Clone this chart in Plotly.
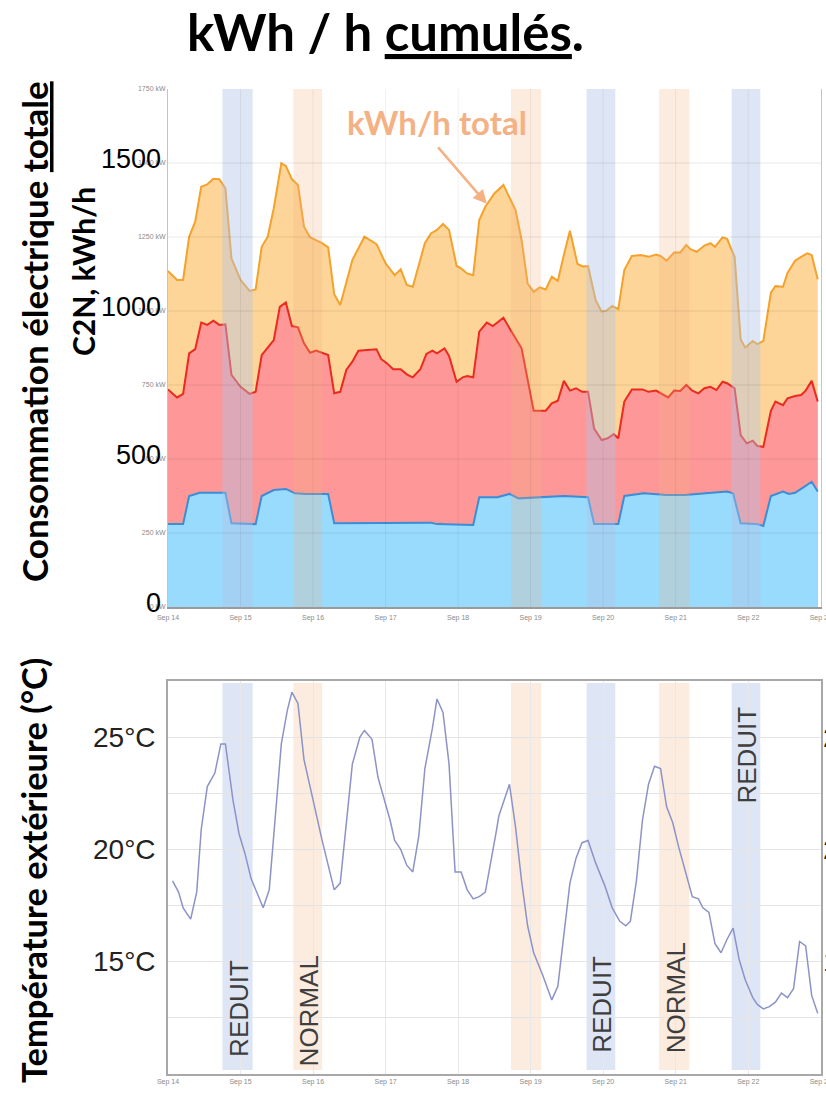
import pandas as pd
import plotly.graph_objects as go

# ---- Données : heures écoulées depuis le 14 sept. 00:00 ----
DEBUT = pd.Timestamp("2014-09-14 00:00")
JOURS = 9

# Courbe cumulée totale (kWh/h)
total_h = [0, 3, 5, 7, 9, 11, 13, 15, 17, 19, 21, 24,
           27, 29, 31, 33, 35, 37.5, 39, 41, 43, 45, 47,
           51, 53, 55, 57, 59, 61, 65, 69, 72,
           75, 77, 79, 81, 85, 87, 89, 91, 93, 95.5,
           97, 99, 101, 103, 105, 108, 111, 115, 117, 119,
           121, 123, 125, 127, 129, 131, 133, 135.5, 137.5, 139, 141.5, 143.5,
           145, 147, 149, 151, 153.5, 156.5, 159, 161.5, 163, 165, 167.5,
           169.5, 171.5, 173, 175, 177.5, 179.5, 181, 183.5, 185, 187.5, 189.5, 191,
           193.5, 195, 197, 199.5, 201, 203.5, 205, 207.5, 209.5, 211.5, 213, 215]
total_kwh = [1135, 1105, 1105, 1251, 1302, 1420, 1428, 1447, 1445, 1414, 1178, 1105,
             1068, 1073, 1217, 1251, 1347, 1499, 1490, 1445, 1426, 1285, 1249,
             1229, 1215, 1057, 1020, 1093, 1172, 1251, 1226, 1161,
             1121, 1141, 1088, 1082, 1229, 1262, 1274, 1294, 1274, 1152,
             1144, 1127, 1121, 1307, 1352, 1397, 1426, 1341, 1240, 1093,
             1065, 1080, 1073, 1116, 1102, 1189, 1271, 1159, 1150, 1152, 1037, 998,
             1001, 1017, 1006, 1138, 1186, 1189, 1183, 1191, 1186, 1170, 1198,
             1198, 1223, 1208, 1200, 1221, 1229, 1217, 1249, 1244, 1183, 904, 877,
             899, 888, 899, 1062, 1084, 1082, 1129, 1170, 1183, 1195, 1189, 1107]

# Cumul des deux premiers groupes (kWh/h)
cumul2_h = [0, 3, 5, 7, 9, 11, 13, 15, 17, 19, 21, 24,
            27, 29, 31, 35, 37, 39, 41, 43, 45, 47,
            49, 53, 55, 57, 59, 61, 63, 69, 70.5,
            72.5, 74.5, 77, 79, 81, 83.5, 85.5, 87.5, 89, 91.5, 93, 95.5,
            97.5, 99, 101, 103, 105.5, 107.5, 111, 113.5, 117,
            121, 125, 127, 129, 131, 133, 135, 137, 139, 141, 143.5,
            145.5, 147.5, 149, 151, 153.5, 157, 159, 161.5, 165.5, 167.5,
            169.5, 171.5, 173.5, 175.5, 177.5, 179.5, 181.5, 183.5, 185, 187.5, 189.5, 191.5,
            193.5, 195, 197, 199.5, 201, 203.5, 205, 207.5, 209.5, 211, 213, 215]
cumul2_kwh = [735, 708, 720, 857, 871, 961, 953, 967, 953, 955, 784, 744,
              720, 727, 851, 902, 1014, 1029, 949, 945, 891, 859,
              866, 851, 722, 727, 801, 829, 866, 871, 838,
              823, 803, 803, 786, 776, 803, 855, 866, 857, 874, 848, 761,
              776, 780, 776, 930, 961, 949, 977, 933, 874,
              663, 663, 688, 697, 764, 731, 739, 727, 727, 603, 564,
              570, 584, 570, 694, 735, 735, 727, 731, 708, 731,
              730, 750, 731, 722, 739, 744, 733, 761, 756, 739, 581, 553,
              562, 544, 541, 663, 694, 682, 705, 713, 716, 731, 764, 694]

# Premier groupe seul (kWh/h)
cumul1_h = [0, 5, 7, 10.5, 19, 21, 29, 31, 35, 39, 42, 45.5, 53, 55, 87,
            89, 101, 103, 109, 113, 116, 131, 139, 141, 149, 151, 157.5, 165,
            171, 176.5, 181, 185, 187, 189.5, 195, 197, 199.5, 203.5, 205.5,
            207.5, 210.5, 213, 215]
cumul1_kwh = [280, 280, 375, 386, 386, 283, 280, 375, 395, 399, 384, 382, 382, 283, 285,
              280, 277, 371, 371, 382, 367, 375, 371, 280, 280, 375, 384, 378,
              378, 382, 387, 390, 384, 283, 280, 274, 375, 390, 382,
              386, 406, 423, 390]

# Température extérieure (°C)
temp_h = [1.5, 3.5, 5, 7.5, 9.5, 11, 13, 15.5, 17.5, 19, 21.5, 23.5,
          25.5, 27.5, 31.5, 33.5, 37.5, 39.5, 41, 43, 45, 47.5,
          49.5, 51, 55, 57, 61, 63.5, 65, 67.5, 69.5, 71.5,
          73.5, 75, 77, 79, 81, 83, 85, 87.5, 89, 91, 93, 95,
          97, 99, 101, 103, 105, 108.5, 109.5, 111, 113, 115, 117, 119,
          121, 124, 127, 129, 131, 133, 135, 137, 139, 141.5,
          144.5, 147, 149.5, 151.5, 153, 155, 157, 159, 161, 163, 165, 167,
          169, 171, 173.5, 175.5, 177, 179, 181, 183, 185, 187, 189, 191,
          193.5, 195, 197, 199, 201, 203, 205, 207, 209, 211, 213, 215]
temp_c = [18.6, 18.1, 17.4, 16.9, 18.1, 20.9, 22.8, 23.4, 24.7, 24.7, 22.2, 20.7,
          19.8, 18.7, 17.4, 18.2, 24.7, 26.2, 27.0, 26.5, 24.0, 22.5,
          21.2, 20.4, 18.2, 18.5, 23.8, 25.0, 25.3, 24.9, 23.2, 22.2,
          21.3, 20.4, 20.0, 19.3, 19.0, 20.6, 23.6, 25.4, 26.7, 26.1, 23.8, 19.0,
          19.0, 18.2, 17.8, 17.9, 18.1, 20.7, 21.5, 22.1, 22.9, 21.0, 18.6, 16.6,
          15.4, 14.4, 13.3, 13.9, 16.1, 18.5, 19.6, 20.3, 20.4, 19.4,
          18.4, 17.4, 16.8, 16.6, 16.8, 18.6, 21.3, 22.9, 23.7, 23.6, 21.9, 21.2,
          20.1, 19.1, 17.9, 17.8, 17.4, 17.2, 15.8, 15.4, 16.0, 16.5, 15.1, 14.2,
          13.4, 13.1, 12.9, 13.0, 13.2, 13.6, 13.4, 13.8, 15.9, 15.7, 13.5, 12.7]

# Périodes de régime de chauffage
periode_debut_h = [18, 41.5, 113.5, 138.5, 162.5, 186.5]
periode_fin_h = [28, 51, 123.5, 148, 172.5, 196]
periode_mode = ["REDUIT", "NORMAL", "NORMAL", "REDUIT", "NORMAL", "REDUIT"]
periode_etiquette = [True, True, False, True, True, True]
etiquette_temp = [12.9, 12.8, None, 13.1, 13.4, 24.2]

reperes_kwh = [0, 500, 1000, 1500]
reperes_temp = [15, 20, 25]

# ---- Mise en page ----
W, H = 826, 1096


def t(hours):
    return [DEBUT + pd.Timedelta(hours=h) for h in hours]


def px(x):
    return x / W


def py(y):
    return 1 - y / H


X_DOM = [px(168), px(821)]
TOP_DOM = [py(607), py(89)]
BOT_DOM = [py(1074), py(681)]
X_RANGE = [DEBUT, DEBUT + pd.Timedelta(days=JOURS, minutes=5)]

NARROW = "Liberation Sans Narrow, Arial Narrow, Liberation Sans, sans-serif"
BOLD = "Lato, Open Sans, sans-serif"

MODE_COULEUR = {"REDUIT": "rgba(176,196,232,0.42)", "NORMAL": "rgba(244,177,131,0.26)"}

fig = go.Figure()

fig.add_trace(go.Scatter(
    x=t(total_h), y=total_kwh, mode="lines", fill="tozeroy",
    line=dict(color="#F4A22C", width=2), fillcolor="#FDD598",
    xaxis="x", yaxis="y", showlegend=False, hoverinfo="skip"))
fig.add_trace(go.Scatter(
    x=t(cumul2_h), y=cumul2_kwh, mode="lines", fill="tozeroy",
    line=dict(color="#EC2A1E", width=2), fillcolor="#FE9797",
    xaxis="x", yaxis="y", showlegend=False, hoverinfo="skip"))
fig.add_trace(go.Scatter(
    x=t(cumul1_h), y=cumul1_kwh, mode="lines", fill="tozeroy",
    line=dict(color="#3A8DD6", width=2), fillcolor="#99DBFD",
    xaxis="x", yaxis="y", showlegend=False, hoverinfo="skip"))

fig.add_trace(go.Scatter(
    x=t(temp_h), y=temp_c, mode="lines",
    line=dict(color="#8C93C6", width=1.5),
    xaxis="x2", yaxis="y2", showlegend=False, hoverinfo="skip"))

shapes = []
# bandes de régime sur les deux graphiques
for d, f, m in zip(periode_debut_h, periode_fin_h, periode_mode):
    x0, x1 = t([d, f])
    shapes.append(dict(type="rect", xref="x", yref="y domain", x0=x0, x1=x1,
                       y0=0, y1=1, fillcolor=MODE_COULEUR[m], line_width=0,
                       layer="above"))
    shapes.append(dict(type="rect", xref="x2", yref="y2 domain", x0=x0, x1=x1,
                       y0=0.01, y1=0.995, fillcolor=MODE_COULEUR[m], line_width=0,
                       layer="below"))

# quadrillage du graphique de consommation, visible à travers les aires
for v in range(250, 1750, 250):
    shapes.append(dict(type="line", xref="x domain", yref="y", x0=0, x1=1,
                       y0=v, y1=v, line=dict(color="rgba(0,0,0,0.09)", width=1),
                       layer="above"))
for j in range(1, JOURS):
    xj = DEBUT + pd.Timedelta(days=j)
    shapes.append(dict(type="line", xref="x", yref="y domain", x0=xj, x1=xj,
                       y0=0, y1=1, line=dict(color="rgba(0,0,0,0.06)", width=1),
                       layer="above"))

annotations = []
# titre
annotations.append(dict(
    text="<b>kWh / h <u>cumulés</u>.</b>", xref="paper", yref="paper",
    x=px(385), y=py(31), showarrow=False, xanchor="center", yanchor="middle",
    font=dict(family=BOLD, size=51, color="#000000")))
# titres des axes
annotations.append(dict(
    text="<b>Consommation électrique <u>totale</u></b>", xref="paper", yref="paper",
    x=px(34), y=py(332), textangle=-90, showarrow=False,
    xanchor="center", yanchor="middle",
    font=dict(family=BOLD, size=35, color="#000000")))
annotations.append(dict(
    text="<b>C2N, kWh/h</b>", xref="paper", yref="paper",
    x=px(83), y=py(272), textangle=-90, showarrow=False,
    xanchor="center", yanchor="middle",
    font=dict(family=BOLD, size=30, color="#000000")))
annotations.append(dict(
    text="<b>Température extérieure (°C)</b>", xref="paper", yref="paper",
    x=px(33), y=py(871), textangle=-90, showarrow=False,
    xanchor="center", yanchor="middle",
    font=dict(family=BOLD, size=34.5, color="#000000")))
# grands repères
for v in reperes_kwh:
    annotations.append(dict(
        text=str(v), xref="paper", yref="y", x=px(163), y=v, yshift=4,
        showarrow=False, xanchor="right", yanchor="middle",
        font=dict(family=NARROW, size=27, color="#000000")))
for v in reperes_temp:
    annotations.append(dict(
        text=f"{v}°C", xref="paper", yref="y2", x=px(158), y=v,
        showarrow=False, xanchor="right", yanchor="middle",
        font=dict(family=NARROW, size=28, color="#222222")))
    annotations.append(dict(
        text=f"{v}°C", xref="paper", yref="y2", x=px(821), y=v,
        showarrow=False, xanchor="left", yanchor="middle",
        font=dict(family=NARROW, size=28, color="#222222")))
# étiquettes des régimes
for d, f, m, e, ty in zip(periode_debut_h, periode_fin_h, periode_mode,
                          periode_etiquette, etiquette_temp):
    if not e:
        continue
    annotations.append(dict(
        text=m, xref="x2", yref="y2", x=t([(d + f) / 2 + 0.5])[0], y=ty,
        textangle=-90, showarrow=False, xanchor="center", yanchor="middle",
        font=dict(family=NARROW, size=26, color="#3E3E3E")))
# repère de la courbe totale
annotations.append(dict(
    text="<b>kWh/h total</b>", xref="paper", yref="paper",
    x=px(437), y=py(122), showarrow=False, xanchor="center", yanchor="middle",
    font=dict(family=BOLD, size=33, color="#F4B183")))
annotations.append(dict(
    text="", xref="x", yref="y", x=t([105.5])[0], y=1362,
    axref="pixel", ayref="pixel", ax=-50, ay=-58, showarrow=True,
    arrowhead=2, arrowsize=1.1, arrowwidth=2.5, arrowcolor="#F4B183",
    standoff=0))

tick_font = dict(family=NARROW, size=7, color="#8A8A8A")

fig.update_layout(
    width=W, height=H,
    margin=dict(l=0, r=0, t=0, b=0, autoexpand=False),
    paper_bgcolor="white", plot_bgcolor="white",
    shapes=shapes, annotations=annotations,
    xaxis=dict(domain=X_DOM, anchor="y", range=X_RANGE, type="date",
               dtick=86400000, tick0=DEBUT, tickformat="%b %d", tickfont=tick_font,
               showgrid=False, showline=True, linecolor="#9A9A9A", linewidth=1.5,
               mirror=False, ticks="", ticklabelstandoff=3, zeroline=False,
               automargin=False, ticklabeloverflow="allow"),
    yaxis=dict(domain=TOP_DOM, anchor="x", range=[0, 1750], dtick=250,
               ticksuffix=" kW", tickfont=tick_font, showgrid=False,
               showline=True, linecolor="#C4C4C4", linewidth=1, mirror=True,
               ticks="", zeroline=False, automargin=False,
               ticklabeloverflow="allow"),
    xaxis2=dict(domain=X_DOM, anchor="y2", range=X_RANGE, type="date",
                dtick=86400000, tick0=DEBUT, tickformat="%b %d", tickfont=tick_font,
                showgrid=True, gridcolor="#E8E8E8", showline=True,
                linecolor="#A8A8A8", linewidth=1.5, mirror=True, ticks="",
                zeroline=False, automargin=False, ticklabeloverflow="allow"),
    yaxis2=dict(domain=BOT_DOM, anchor="x2", range=[10, 27.5], dtick=2.5,
                showticklabels=False, showgrid=True, gridcolor="#E4E4E4",
                showline=True, linecolor="#A8A8A8", linewidth=1.5, mirror=True,
                ticks="", zeroline=False, automargin=False),
)

fig.write_html("out.html")
